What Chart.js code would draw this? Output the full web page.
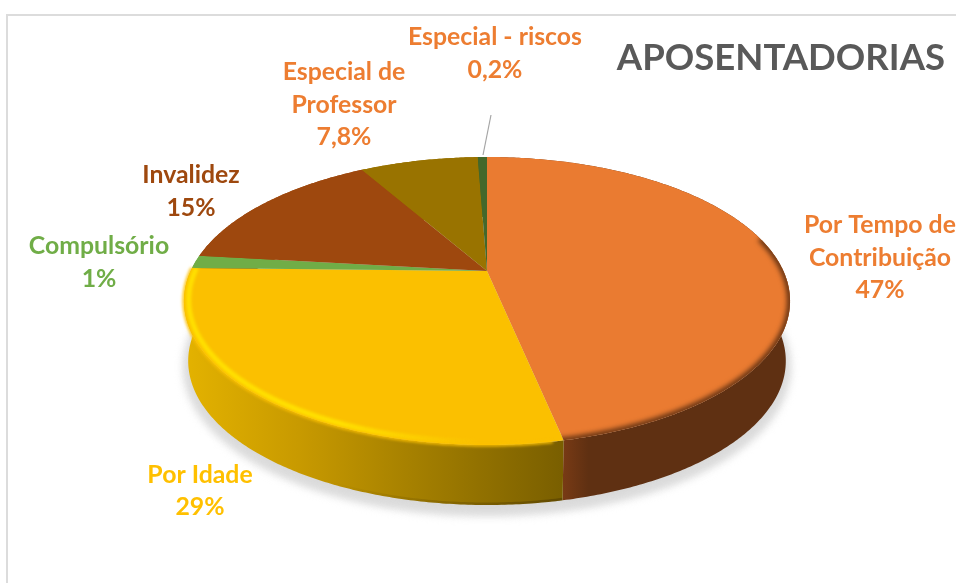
<!DOCTYPE html>
<html>
<head>
<meta charset="utf-8">
<title>Aposentadorias</title>
<script src="https://cdn.jsdelivr.net/npm/chart.js@4"></script>
<style>
  html, body { margin: 0; padding: 0; background: #fff; overflow: hidden; }
  #frame { position: absolute; left: 6px; top: 14px; right: 0; bottom: 0; border-left: 2px solid #dcdcdc; border-top: 2px solid #dcdcdc; }
  #myChart { position: absolute; left: 0; top: 0; }
</style>
</head>
<body>
<div id="frame"></div>
<canvas id="myChart" width="956" height="583"></canvas>
<script>
const titleText = "APOSENTADORIAS";
const categories = [
  ["Por Tempo de", "Contribuição"],
  ["Por Idade"],
  ["Compulsório"],
  ["Invalidez"],
  ["Especial de", "Professor"],
  ["Especial - riscos"],
];
// printed on the chart
const percentLabels = ["47%", "29%", "1%", "15%", "7,8%", "0,2%"];
// share of the circle each slice really takes in the picture
const sliceShares = [46.7, 28.65, 1.45, 14.9, 7.7, 0.6];

const sliceColors = ["#EA7B31", "#FBC000", "#70AD47", "#9E480E", "#997300", "#43682B"];
const labelColors = ["#ED7D31", "#FFC000", "#70AD47", "#9E480E", "#ED7D31", "#ED7D31"];
const labelCenterX = [880, 200, 99, 191, 344, 495];
const labelTopY = [225.5, 475, 246.5, 175.5, 72.5, 37.5];
const lineStep = 32.5;

// perspective of the top face: apex of the pie and how the circle gets squashed
const apexX = 487;
const apexY = 271;
const spreadX = 296.4;
const spreadY = 81.3;
const tilt = -0.2083;
const wallDepth = 60;
const wallShrink = 0.986;

function project(angle, inset = 1) {
  const cx = Math.cos(angle) * inset;
  const cy = Math.sin(angle) * inset;
  const w = 1 + tilt * cy;
  return { x: apexX + (spreadX * cx) / w, y: (spreadY * cy + apexY) / w };
}

function dropped(p) {
  return { x: apexX + (p.x - apexX) * wallShrink, y: p.y + wallDepth };
}

function arcPoints(start, end, inset = 1) {
  const pts = [];
  const steps = Math.max(2, Math.ceil((end - start) / 0.01));
  for (let i = 0; i <= steps; i++) {
    pts.push(project(start + ((end - start) * i) / steps, inset));
  }
  return pts;
}

function tracePoints(ctx, pts) {
  pts.forEach((p, i) => {
    if (i === 0) ctx.moveTo(p.x, p.y);
    else ctx.lineTo(p.x, p.y);
  });
}

function traceSlice(ctx, arc) {
  ctx.beginPath();
  ctx.moveTo(apexX, apexY);
  arcPoints(arc.startAngle, arc.endAngle).forEach((p) => ctx.lineTo(p.x, p.y));
  ctx.closePath();
}

function traceWall(ctx, arc) {
  const top = arcPoints(arc.startAngle, arc.endAngle);
  ctx.beginPath();
  tracePoints(ctx, top);
  top.slice().reverse().map(dropped).forEach((p) => ctx.lineTo(p.x, p.y));
  ctx.closePath();
}

function wallFill(ctx, index) {
  if (index === 0) {
    const g = ctx.createLinearGradient(561, 0, 790, 0);
    g.addColorStop(0, "#7A3B15");
    g.addColorStop(0.12, "#5F3012");
    g.addColorStop(1, "#5F3012");
    return g;
  }
  if (index === 1) {
    const g = ctx.createLinearGradient(186, 0, 561, 0);
    g.addColorStop(0, "#E3B200");
    g.addColorStop(0.3, "#C89A00");
    g.addColorStop(0.65, "#A07C00");
    g.addColorStop(1, "#7A5F00");
    return g;
  }
  return sliceColors[index];
}

const pie3d = {
  id: "pie3d",
  beforeDatasetDraw(chart) {
    const ctx = chart.ctx;
    const arcs = chart.getDatasetMeta(0).data;
    const full = arcPoints(0, Math.PI * 2);

    // soft shadow under the pie
    ctx.save();
    ctx.filter = "blur(5px)";
    ctx.fillStyle = "#D6D6D6";
    ctx.strokeStyle = "#D6D6D6";
    ctx.lineWidth = 8;
    ctx.beginPath();
    tracePoints(ctx, full.map(dropped).map((p) => ({ x: p.x, y: p.y + 6 })));
    ctx.closePath();
    ctx.fill();
    ctx.stroke();
    ctx.restore();

    // side walls
    arcs.forEach((arc, i) => {
      traceWall(ctx, arc);
      ctx.fillStyle = wallFill(ctx, i);
      ctx.fill();
    });

    // darker foot along the yellow wall
    ctx.save();
    traceWall(ctx, arcs[1]);
    ctx.clip();
    const foot = ctx.createLinearGradient(330, 0, 561, 0);
    foot.addColorStop(0, "rgba(70,50,0,0)");
    foot.addColorStop(1, "rgba(70,50,0,0.45)");
    ctx.strokeStyle = foot;
    ctx.lineWidth = 5;
    ctx.beginPath();
    tracePoints(ctx, arcPoints(arcs[1].startAngle, arcs[1].endAngle).map(dropped));
    ctx.stroke();
    ctx.restore();

    // top faces
    arcs.forEach((arc, i) => {
      traceSlice(ctx, arc);
      ctx.fillStyle = sliceColors[i];
      ctx.fill();
    });

    // soft step between the yellow face and its wall
    ctx.save();
    ctx.filter = "blur(1.5px)";
    ctx.strokeStyle = sliceColors[1];
    ctx.lineWidth = 3;
    ctx.beginPath();
    tracePoints(ctx, arcPoints(arcs[1].startAngle + 0.03, arcs[1].endAngle));
    ctx.stroke();
    ctx.restore();

    // bevel highlight, strong on the left and gone by the front of the pie
    ctx.save();
    traceSlice(ctx, arcs[1]);
    ctx.clip();
    ctx.filter = "blur(1.5px)";
    const shine = ctx.createLinearGradient(340, 0, 480, 0);
    shine.addColorStop(0, "rgba(255,224,0,1)");
    shine.addColorStop(1, "rgba(255,224,0,0)");
    ctx.strokeStyle = shine;
    ctx.lineWidth = 5;
    ctx.beginPath();
    tracePoints(ctx, arcPoints(arcs[1].startAngle, arcs[1].endAngle, 0.985));
    ctx.stroke();
    ctx.restore();

    ctx.save();
    traceSlice(ctx, arcs[0]);
    ctx.clip();
    ctx.filter = "blur(2.5px)";
    ctx.strokeStyle = "#5F3012";
    ctx.lineWidth = 6;
    ctx.beginPath();
    tracePoints(ctx, arcPoints(-0.25, arcs[0].endAngle + 0.1));
    ctx.stroke();
    ctx.restore();

    return false;
  },
  afterDraw(chart) {
    const ctx = chart.ctx;
    ctx.save();
    ctx.font = "bold 24.8px Lato";
    ctx.textAlign = "center";
    ctx.textBaseline = "middle";
    categories.forEach((lines, i) => {
      ctx.fillStyle = labelColors[i];
      lines.concat(percentLabels[i]).forEach((line, n) => {
        ctx.fillText(line, labelCenterX[i], labelTopY[i] + n * lineStep);
      });
    });
    // leader line for the tiny slice
    ctx.strokeStyle = "#A6A6A6";
    ctx.lineWidth = 1.2;
    ctx.beginPath();
    ctx.moveTo(483, 155);
    ctx.lineTo(491, 115);
    ctx.stroke();
    ctx.restore();
  },
};

new Chart(document.getElementById("myChart"), {
  type: "pie",
  data: {
    labels: categories.map((c) => c.join(" ")),
    datasets: [{ data: sliceShares, backgroundColor: sliceColors, borderWidth: 0 }],
  },
  options: {
    responsive: false,
    animation: false,
    events: [],
    layout: { padding: { right: 11 } },
    plugins: {
      legend: { display: false },
      tooltip: { enabled: false },
      title: {
        display: true,
        text: titleText,
        align: "end",
        fullSize: false,
        color: "#595959",
        font: { family: "Lato", size: 36.5, weight: "bold" },
        padding: { top: 36, bottom: 0 },
      },
    },
  },
  plugins: [pie3d],
});
</script>
</body>
</html>
